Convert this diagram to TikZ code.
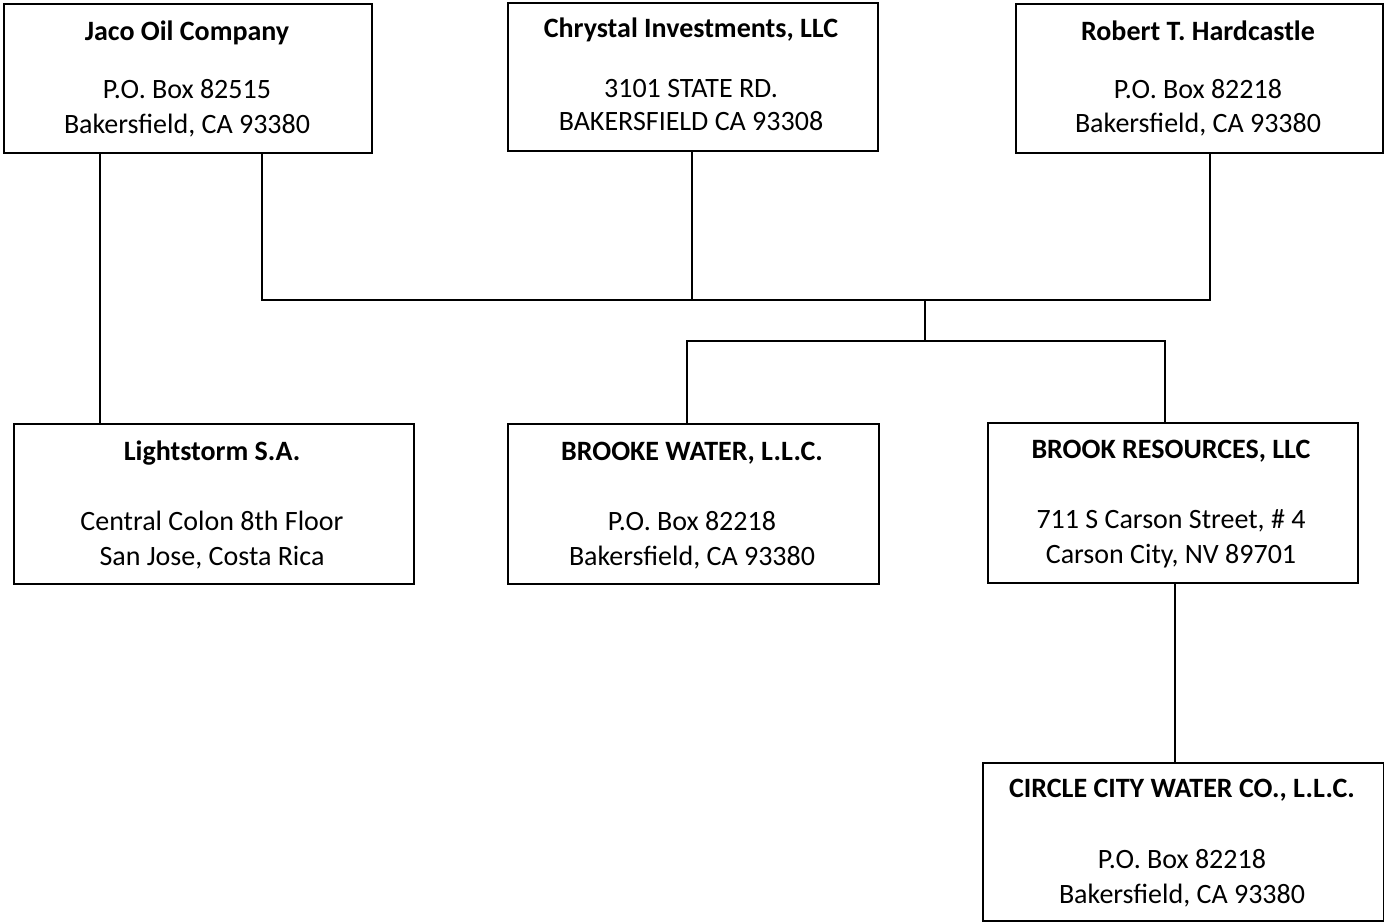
\documentclass[tikz,border=0pt]{standalone}
\usepackage{fontspec}
\setmainfont{Carlito}
\begin{document}
\begin{tikzpicture}[x=1pt,y=-1pt,
  ent/.style={draw, line width=2pt, inner sep=0pt, anchor=north west},
  ttl/.style={anchor=base, font=\fontsize{28}{34}\selectfont\bfseries, inner sep=0pt},
  adr/.style={anchor=base, font=\fontsize{28}{34}\selectfont, inner sep=0pt},
  link/.style={draw, line width=2pt}]
\useasboundingbox (0,0) rectangle (1384,922);
% boxes
\node[ent, minimum width=368pt, minimum height=149pt] (jaco) at (3,3) {};
\node[ent, minimum width=370pt, minimum height=148pt] (chry) at (507,2) {};
\node[ent, minimum width=367pt, minimum height=149pt] (robert) at (1015,3) {};
\node[ent, minimum width=400pt, minimum height=160pt] (light) at (13,423) {};
\node[ent, minimum width=371pt, minimum height=160pt] (brookew) at (507,423) {};
\node[ent, minimum width=370pt, minimum height=160pt] (brookr) at (987,422) {};
\node[ent, minimum width=401pt, minimum height=158pt] (circle) at (982,762) {};
% texts
\node[ttl] (jacoT) at (187,40) {Jaco Oil Company};
\node[adr] (jacoA) at (187,98) {P.O. Box 82515};
\node[adr] (jacoB) at (187,133) {Bakersfield, CA 93380};
\node[ttl] (chryT) at (691,37) {Chrystal Investments, LLC};
\node[adr] (chryA) at (691,97) {3101 STATE RD.};
\node[adr] (chryB) at (691,130) {BAKERSFIELD CA 93308};
\node[ttl] (robertT) at (1198,40) {Robert T. Hardcastle};
\node[adr] (robertA) at (1198,98) {P.O. Box 82218};
\node[adr] (robertB) at (1198,132) {Bakersfield, CA 93380};
\node[ttl] (lightT) at (212,460) {Lightstorm S.A.};
\node[adr] (lightA) at (212,530) {Central Colon 8th Floor};
\node[adr] (lightB) at (212,565) {San Jose, Costa Rica};
\node[ttl] (brookewT) at (692,460) {BROOKE WATER, L.L.C.};
\node[adr] (brookewA) at (692,530) {P.O. Box 82218};
\node[adr] (brookewB) at (692,565) {Bakersfield, CA 93380};
\node[ttl] (brookrT) at (1171,458) {BROOK RESOURCES, LLC};
\node[adr] (brookrA) at (1171,528) {711 S Carson Street, \# 4};
\node[adr] (brookrB) at (1171,563) {Carson City, NV 89701};
\node[ttl] (circleT) at (1182,797) {CIRCLE CITY WATER CO., L.L.C.};
\node[adr] (circleA) at (1182,868) {P.O. Box 82218};
\node[adr] (circleB) at (1182,903) {Bakersfield, CA 93380};
% junction coordinates
\coordinate (xa) at (100,0);
\coordinate (xb) at (262,300);
\coordinate (xc) at (692,300);
\coordinate (xd) at (1210,300);
\coordinate (m) at (925,300);
\coordinate (n) at (925,341);
\coordinate (xe) at (687,341);
\coordinate (xf) at (1165,341);
\coordinate (xg) at (1175,0);
% connectors
\draw[link] (jaco.south -| xa) -- (light.north -| xa);
\draw[link] (jaco.south -| xb) -- (xb) -- (xd) -- (robert.south -| xd);
\draw[link] (chry.south -| xc) -- (xc);
\draw[link] (m) -- (n);
\draw[link] (brookew.north -| xe) -- (xe) -- (xf) -- (brookr.north -| xf);
\draw[link] (brookr.south -| xg) -- (circle.north -| xg);
\end{tikzpicture}
\end{document}
